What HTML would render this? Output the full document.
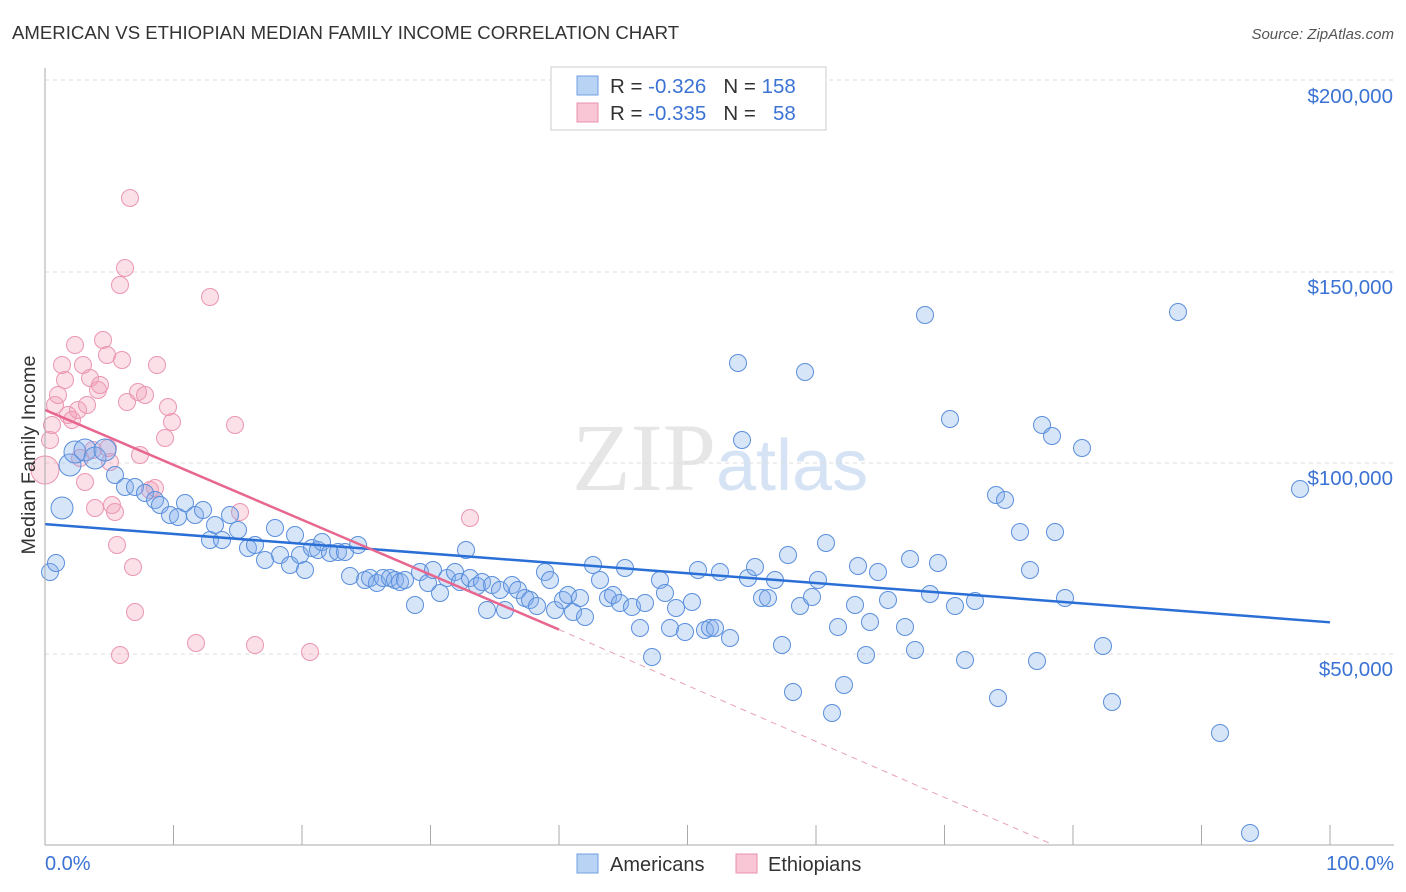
<!DOCTYPE html>
<html><head><meta charset="utf-8"><style>
body{margin:0;background:#fff;font-family:"Liberation Sans",sans-serif;}
svg{display:block}
</style></head><body>
<svg id="c" width="1406" height="892" xmlns="http://www.w3.org/2000/svg">
<text x="12" y="39" font-size="18.6" fill="#333">AMERICAN VS ETHIOPIAN MEDIAN FAMILY INCOME CORRELATION CHART</text>
<text x="1394" y="39" font-size="15" fill="#555" font-style="italic" text-anchor="end">Source: ZipAtlas.com</text>
<text x="716" y="490" font-size="96" fill="#e6e6e6" text-anchor="end" font-family="Liberation Serif">ZIP</text>
<text x="716" y="490" font-size="72" fill="#d5e3f5">atlas</text>
<g id="grid"></g><g id="pts"></g><g id="lines"></g>
<line x1="45" y1="68" x2="45" y2="845" stroke="#aaa"/>
<line x1="45" y1="845" x2="1394" y2="845" stroke="#aaa"/>
<text x="35" y="455" font-size="19.8" fill="#333" text-anchor="middle" transform="rotate(-90 35 455)">Median Family Income</text>
<text x="45" y="870" font-size="20" fill="#3b73d4">0.0%</text>
<text x="1394" y="870" font-size="20" fill="#3b73d4" text-anchor="end">100.0%</text>
<g>
<rect x="551" y="67" width="275" height="63" fill="#fff" stroke="#ccc"/>
<rect x="577" y="76" width="21" height="19" fill="#b9d3f5" stroke="#6f9fe0"/>
<rect x="577" y="103" width="21" height="19" fill="#f8c6d5" stroke="#e890ad"/>
<text x="610" y="93" font-size="20.5" fill="#333">R = <tspan fill="#3b73d4">-0.326</tspan>&#160;&#160;&#160;N = <tspan fill="#3b73d4">158</tspan></text>
<text x="610" y="120" font-size="20.5" fill="#333">R = <tspan fill="#3b73d4">-0.335</tspan>&#160;&#160;&#160;N = &#160;&#160;<tspan fill="#3b73d4">58</tspan></text>
</g>
<g>
<rect x="577" y="854" width="21" height="19" fill="#b9d3f5" stroke="#6f9fe0"/>
<text x="610" y="871" font-size="20" fill="#333">Americans</text>
<rect x="736" y="854" width="21" height="19" fill="#f8c6d5" stroke="#e890ad"/>
<text x="768" y="871" font-size="20" fill="#333">Ethiopians</text>
</g>
</svg>
<script>
const yTicks=[50000,100000,150000,200000];
const yTickLabels=["$50,000","$100,000","$150,000","$200,000"];
const xTicks=[0,10,20,30,40,50,60,70,80,90,100];
const bluePx=[[50,572],[56,563],[62,508],[70,465],[75,452],[85,450],[95,458],[105,450],[115,475],[125,487],[135,487],[145,493],[155,500],[160,505],[170,515],[178,517],[185,503],[195,515],[203,510],[210,540],[215,525],[222,540],[230,515],[238,530],[248,548],[255,545],[265,560],[275,528],[280,555],[290,565],[295,535],[300,555],[305,570],[312,548],[318,550],[322,542],[330,553],[338,552],[345,552],[350,576],[358,545],[365,580],[370,578],[377,583],[383,578],[390,578],[395,580],[400,582],[405,580],[415,605],[420,572],[428,583],[433,570],[440,593],[447,578],[455,572],[460,582],[466,550],[470,578],[477,586],[482,582],[487,610],[492,585],[500,590],[505,610],[512,585],[518,590],[525,598],[530,600],[537,606],[545,572],[550,580],[555,610],[563,600],[568,595],[573,612],[580,598],[585,617],[593,565],[600,580],[608,598],[613,595],[620,603],[625,568],[632,607],[640,628],[645,603],[652,657],[660,580],[665,593],[670,628],[676,608],[685,632],[692,602],[698,570],[705,630],[710,628],[715,628],[720,572],[730,638],[738,363],[742,440],[748,578],[755,567],[762,598],[768,598],[775,580],[782,645],[788,555],[793,692],[800,606],[805,372],[812,597],[818,580],[826,543],[832,713],[838,627],[844,685],[855,605],[858,566],[866,655],[870,622],[878,572],[888,600],[905,627],[910,559],[915,650],[925,315],[930,594],[938,563],[950,419],[955,606],[965,660],[975,601],[996,495],[998,698],[1005,500],[1020,532],[1030,570],[1037,661],[1042,425],[1052,436],[1055,532],[1065,598],[1082,448],[1103,646],[1112,702],[1178,312],[1220,733],[1250,833],[1300,489]];
const pinkPx=[[45,470],[50,440],[52,425],[55,405],[58,395],[62,365],[65,380],[68,415],[72,420],[75,345],[78,410],[80,458],[83,365],[85,482],[87,405],[90,378],[93,450],[95,508],[98,390],[100,385],[103,340],[107,355],[108,448],[110,462],[112,505],[115,512],[117,545],[120,655],[122,360],[125,268],[127,402],[130,198],[133,567],[135,612],[138,392],[140,455],[145,395],[150,490],[155,488],[157,365],[165,438],[168,407],[172,422],[196,643],[210,297],[235,425],[240,512],[255,645],[310,652],[470,518],[120,285]];
const toPct=p=>(p[0]-45)/12.85, toInc=p=>(845-p[1])*261.8;
const blueX=bluePx.map(toPct), blueY=bluePx.map(toInc);
const pinkX=pinkPx.map(toPct), pinkY=pinkPx.map(toInc);
const blueTrend=[[0,84000],[100,58300]];
const pinkTrend=[[0,113900],[40,56400],[78.5,0]];
const X=v=>45+v*12.85, Y=v=>845-v/261.8;
const NS="http://www.w3.org/2000/svg";
function mk(t,a,p){const e=document.createElementNS(NS,t);for(const k in a)e.setAttribute(k,a[k]);p.appendChild(e);return e;}
const grid=document.getElementById('grid'),svg=document.getElementById('c');
yTicks.forEach((v,i)=>{
 const gy=v==200000?80:Y(v);
 const g=mk('line',{x1:45,x2:1394,y1:gy,y2:gy,stroke:'#ddd','stroke-dasharray':'4,4'},grid);
 
 
 const t=mk('text',{x:1393,y:Y(v)+22,'font-size':20.5,fill:'#3b73d4','text-anchor':'end'},svg);t.textContent=yTickLabels[i];
 
 
});
xTicks.forEach(v=>{const l=mk('line',{x1:X(v),x2:X(v),y1:825,y2:845,stroke:'#aaa'},grid);
 
 });
const pts=document.getElementById('pts');
pinkX.forEach((x,i)=>{const c=mk('circle',{cx:X(x),cy:Y(pinkY[i]),r:i==0?14:8.5,fill:'rgba(244,160,185,0.32)',stroke:'#eb96b2','stroke-width':1},pts);
 
 });
blueX.forEach((x,i)=>{const c=mk('circle',{cx:X(x),cy:Y(blueY[i]),r:(i>=2&&i<8)?11:8.5,fill:'rgba(130,175,235,0.32)',stroke:'#5a8fdc','stroke-width':1},pts);
 
 });
const lines=document.getElementById('lines');
let l=mk('line',{x1:X(blueTrend[0][0]),y1:Y(blueTrend[0][1]),x2:X(blueTrend[1][0]),y2:Y(blueTrend[1][1]),stroke:'#2a6fd6','stroke-width':2.5},lines);


l=mk('line',{x1:X(pinkTrend[0][0]),y1:Y(pinkTrend[0][1]),x2:X(pinkTrend[1][0]),y2:Y(pinkTrend[1][1]),stroke:'#e8678f','stroke-width':2.5},lines);


l=mk('line',{x1:X(pinkTrend[1][0]),y1:Y(pinkTrend[1][1]),x2:X(pinkTrend[2][0]),y2:Y(pinkTrend[2][1]),stroke:'#e8a0b8','stroke-width':1,'stroke-dasharray':'6,5'},lines);


</script>
</body></html>
